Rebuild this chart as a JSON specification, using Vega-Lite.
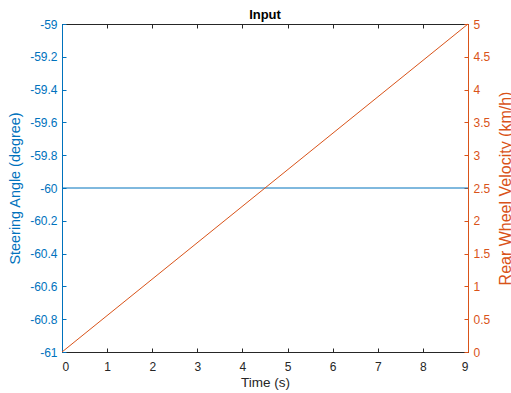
{
  "$schema": "https://vega.github.io/schema/vega-lite/v6.json",
  "width": 406,
  "height": 328,
  "autosize": {"type": "none"},
  "padding": {"left": 62, "top": 24, "right": 43, "bottom": 41},
  "config": {
    "font": "Liberation Sans",
    "view": {"stroke": "#262626", "strokeWidth": 1},
    "axis": {"grid": false, "labelFontSize": 12, "titleFontSize": 14, "titleFontWeight": "normal", "tickSize": -4, "domainWidth": 1, "labelExpr": "datum.value + ''"}
  },
  "title": {"text": "Input", "fontSize": 13, "fontWeight": "bold", "color": "#000000", "offset": -4, "font": "Liberation Sans"},
  "data": {"values": [
    {"t": 0, "angle": -60, "vel": 0},
    {"t": 9, "angle": -60, "vel": 5}
  ]},
  "layer": [
    {
      "mark": {"type": "line", "color": "#0072BD", "strokeWidth": 1},
      "encoding": {
        "x": {"field": "t", "type": "quantitative", "scale": {"domain": [0, 9], "nice": false},
              "axis": {"title": "Time (s)", "values": [0,1,2,3,4,5,6,7,8,9], "domainColor": "#262626", "tickColor": "#262626", "labelColor": "#262626", "titleColor": "#262626", "labelPadding": 13, "titlePadding": 3, "titleFontSize": 13.5}},
        "y": {"field": "angle", "type": "quantitative", "scale": {"domain": [-61, -59], "nice": false, "zero": false},
              "axis": {"title": "Steering Angle (degree)", "orient": "left", "values": [-61,-60.8,-60.6,-60.4,-60.2,-60,-59.8,-59.6,-59.4,-59.2,-59], "domainColor": "#0072BD", "tickColor": "#0072BD", "labelColor": "#0072BD", "titleColor": "#0072BD", "labelPadding": 9, "titlePadding": 7, "titleFontSize": 14.4}}
      }
    },
    {
      "mark": {"type": "line", "color": "#D95319", "strokeWidth": 1},
      "encoding": {
        "x": {"field": "t", "type": "quantitative", "scale": {"domain": [0, 9], "nice": false},
              "axis": {"orient": "top", "title": null, "labels": false, "values": [0,1,2,3,4,5,6,7,8,9], "domainColor": "#262626", "tickColor": "#262626"}},
        "y": {"field": "vel", "type": "quantitative", "scale": {"domain": [0, 5], "nice": false},
              "axis": {"title": "Rear Wheel Velocity (km/h)", "orient": "right", "titleAngle": 270, "titleBaseline": "top", "values": [0,0.5,1,1.5,2,2.5,3,3.5,4,4.5,5], "domainColor": "#D95319", "tickColor": "#D95319", "labelColor": "#D95319", "titleColor": "#D95319", "labelPadding": 9, "titlePadding": 8, "titleFontSize": 16}}
      }
    }
  ],
  "resolve": {"scale": {"y": "independent"}, "axis": {"x": "independent"}}
}
